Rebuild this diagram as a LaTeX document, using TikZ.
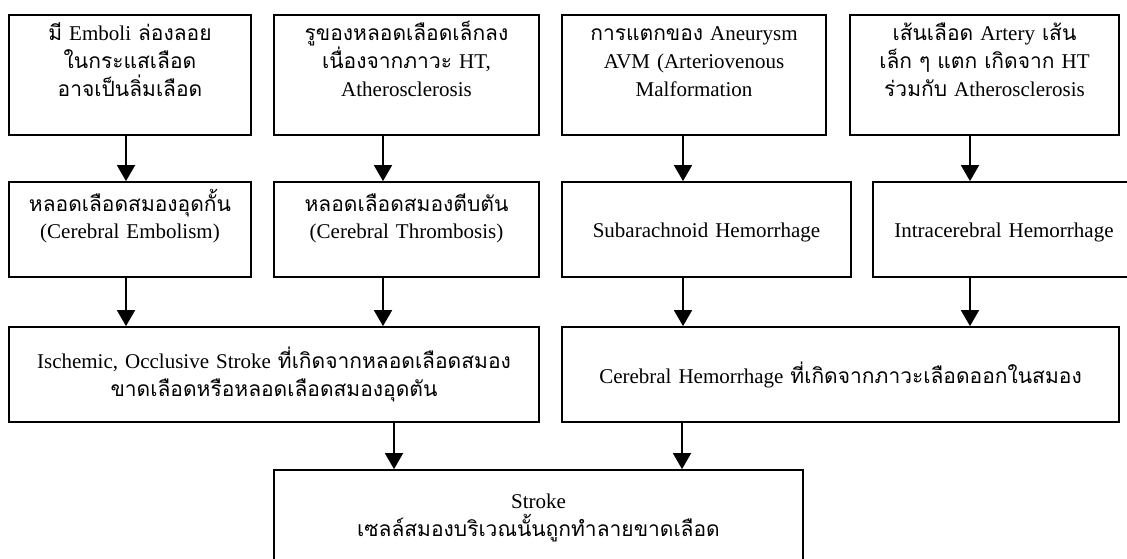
\documentclass[tikz,border=0pt]{standalone}
\usepackage{fontspec}
\setmainfont{Liberation Serif}
\newfontfamily\thaifont[Script=Thai]{Loma}
\newcommand{\tx}[1]{{\thaifont #1}}
\usepackage{tikz}
\usetikzlibrary{arrows.meta}

\begin{document}
\begin{tikzpicture}[x=1pt,y=-1pt,
  box/.style={draw,line width=1.8pt,inner xsep=3pt,inner ysep=0pt,align=center,
    font=\fontsize{21}{28}\selectfont},
  arr/.style={line width=1.8pt,-{Triangle[width=18pt,length=16pt]}}]
\clip (0,0) rectangle (1127,559);
% arrow columns
\coordinate (x1) at (126,0);
\coordinate (x2) at (383,0);
\coordinate (x3) at (683,0);
\coordinate (x4) at (970,0);
\coordinate (y1) at (394,0);
\coordinate (y2) at (682,0);
% causes
\node (a1) at (130,75) [box,text width=236pt,text height=26pt,text depth=94pt]
  {\tx{มี} Emboli \tx{ล่องลอย}\\\tx{ในกระแสเลือด}\\\tx{อาจเป็นลิ่มเลือด}};
\node (a2) at (406.5,75) [box,text width=259pt,text height=26pt,text depth=94pt]
  {\tx{รูของหลอดเลือดเล็กลง}\\\tx{เนื่องจากภาวะ} HT,\\Atherosclerosis};
\node (a3) at (694,75) [box,text width=258pt,text height=26pt,text depth=94pt]
  {\tx{การแตกของ} Aneurysm\\AVM (Arteriovenous\\Malformation};
\node (a4) at (984.5,75) [box,text width=263pt,text height=26pt,text depth=94pt]
  {\tx{เส้นเลือด} Artery \tx{เส้น}\\\tx{เล็ก ๆ แตก เกิดจาก} HT\\\tx{ร่วมกับ} Atherosclerosis};
% types
\node (b1) at (130,229.5) [box,text width=236pt,text height=29pt,text depth=66pt]
  {\tx{หลอดเลือดสมองอุดกั้น}\\(Cerebral Embolism)};
\node (b2) at (406.5,229.5) [box,text width=259pt,text height=29pt,text depth=66pt]
  {\tx{หลอดเลือดสมองตีบตัน}\\(Cerebral Thrombosis)};
\node (b3) at (706.5,229.5) [box,text width=283pt,text height=55pt,text depth=40pt]
  {Subarachnoid Hemorrhage};
\node (b4) at (1004,229.5) [box,text width=256pt,text height=55pt,text depth=40pt]
  {Intracerebral Hemorrhage};
% groups
\node (c1) at (274,374.5) [box,text width=524pt,text height=41pt,text depth=54pt]
  {Ischemic, Occlusive Stroke \tx{ที่เกิดจากหลอดเลือดสมอง}\\\tx{ขาดเลือดหรือหลอดเลือดสมองอุดตัน}};
\node (c2) at (840.5,374.5) [box,text width=551pt,text height=56pt,text depth=39pt]
  {Cerebral Hemorrhage \tx{ที่เกิดจากภาวะเลือดออกในสมอง}};
% result
\node (d) at (538.5,530) [box,text width=523pt,text height=38pt,text depth=82pt]
  {Stroke\\\tx{เซลล์สมองบริเวณนั้นถูกทำลายขาดเลือด}};

\draw[arr] (a1.south -| x1) -- (b1.north -| x1);
\draw[arr] (a2.south -| x2) -- (b2.north -| x2);
\draw[arr] (a3.south -| x3) -- (b3.north -| x3);
\draw[arr] (a4.south -| x4) -- (b4.north -| x4);
\draw[arr] (b1.south -| x1) -- (c1.north -| x1);
\draw[arr] (b2.south -| x2) -- (c1.north -| x2);
\draw[arr] (b3.south -| x3) -- (c2.north -| x3);
\draw[arr] (b4.south -| x4) -- (c2.north -| x4);
\draw[arr] (c1.south -| y1) -- (d.north -| y1);
\draw[arr] (c2.south -| y2) -- (d.north -| y2);

\end{tikzpicture}
\end{document}
